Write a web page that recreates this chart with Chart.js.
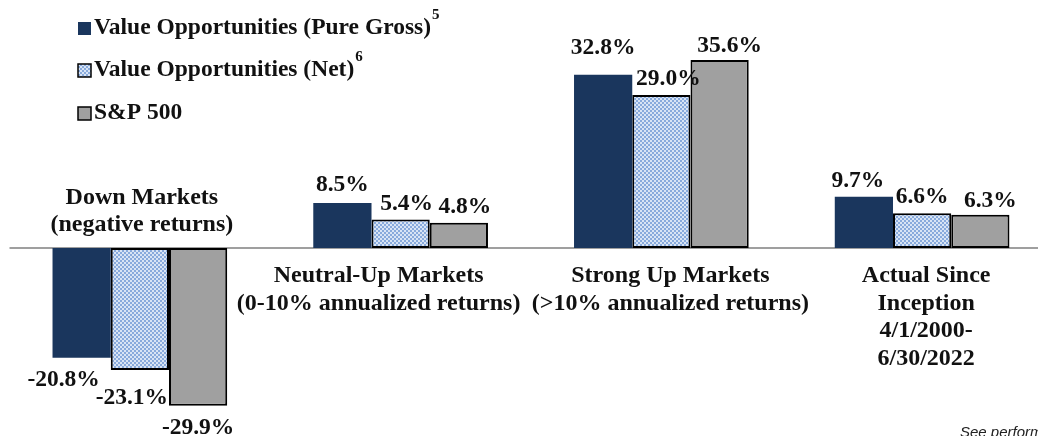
<!DOCTYPE html>
<html>
<head>
<meta charset="utf-8">
<script src="https://cdn.jsdelivr.net/npm/chart.js@4.4.1/dist/chart.umd.min.js"></script>
<style>
  html, body { margin: 0; padding: 0; background: #fff; overflow: hidden; }
  #wrap { width: 1060px; height: 436px; }
</style>
</head>
<body>
<div id="wrap"><canvas id="chart" width="1060" height="436"></canvas></div>
<script>
// categories (multi-line labels)
const categories = [
  ['Down Markets', '(negative returns)'],
  ['Neutral-Up Markets', '(0-10% annualized returns)'],
  ['Strong Up Markets', '(>10% annualized returns)'],
  ['Actual Since', 'Inception', '4/1/2000-', '6/30/2022']
];
const seriesNames = ['Value Opportunities (Pure Gross)', 'Value Opportunities (Net)', 'S&P 500'];
const seriesNotes = ['5', '6', ''];
const pureGross = [-20.8, 8.5, 32.8, 9.7];
const net = [-23.1, 5.4, 29.0, 6.6];
const sp500 = [-29.9, 4.8, 35.6, 6.3];

// checkered fill for the Net series
function makePattern() {
  const c = document.createElement('canvas');
  c.width = 4; c.height = 4;
  const g = c.getContext('2d');
  g.fillStyle = '#d8e4f5';
  g.fillRect(0, 0, 4, 4);
  g.fillStyle = '#88aadc';
  g.fillRect(0, 0, 2, 2);
  g.fillRect(2, 2, 2, 2);
  return g.createPattern(c, 'repeat');
}
const netFill = makePattern();

const serifBold = (size) => 'bold ' + size + 'px "Liberation Serif", "Times New Roman", serif';

// value label nudges [series][category] -> [dx, dy] relative to default spot
const nudges = [
  [[-18, 0], [0, -2], [0, -11], [-6, 0]],
  [[-8, 6], [6, 0], [7, 0], [0, 0]],
  [[0, 0], [6, 0], [10, 2], [10, 2]]
];
// category label horizontal shift
const catShift = [2, -22, 9, 4];

const annotate = {
  id: 'annotate',
  beforeDatasetsDraw(chart) {
    const { ctx, chartArea, scales } = chart;
    const y0 = scales.y.getPixelForValue(0);
    ctx.save();
    ctx.strokeStyle = '#7f7f7f';
    ctx.lineWidth = 1.5;
    ctx.beginPath();
    ctx.moveTo(chartArea.left, y0);
    ctx.lineTo(chartArea.right, y0);
    ctx.stroke();
    ctx.restore();
  },
  afterDatasetsDraw(chart) {
    const { ctx, scales } = chart;
    const y0 = scales.y.getPixelForValue(0);
    ctx.save();
    ctx.fillStyle = '#111';
    ctx.textAlign = 'center';
    ctx.textBaseline = 'middle';

    // value labels
    ctx.font = serifBold(23.5);
    chart.data.datasets.forEach((ds, si) => {
      const meta = chart.getDatasetMeta(si);
      meta.data.forEach((bar, ci) => {
        const v = ds.data[ci];
        const [dx, dy] = nudges[si][ci];
        const y = v >= 0 ? bar.y - 16 : bar.y + 22;
        ctx.fillText(v.toFixed(1) + '%', bar.x + dx, y + dy);
      });
    });

    // category labels
    ctx.font = serifBold(24);
    const lh = 27.5;
    categories.forEach((lines, ci) => {
      const x = scales.x.getPixelForValue(ci) + catShift[ci];
      const neg = pureGross[ci] < 0;
      lines.forEach((t, li) => {
        const y = neg ? y0 - 23 - (lines.length - 1 - li) * lh : y0 + 28 + li * lh;
        ctx.fillText(t, x, y);
      });
    });

    // legend
    const fills = chart.data.datasets.map(d => d.backgroundColor);
    ctx.textAlign = 'left';
    [28, 70, 113].forEach((cy, i) => {
      ctx.fillStyle = fills[i];
      ctx.fillRect(78, cy - 6, 13, 13);
      if (i > 0) {
        ctx.strokeStyle = '#000';
        ctx.lineWidth = 1.5;
        ctx.strokeRect(78, cy - 6, 13, 13);
      }
      ctx.fillStyle = '#111';
      ctx.font = serifBold(23.5);
      ctx.fillText(seriesNames[i], 94, cy);
      if (seriesNotes[i]) {
        const w = ctx.measureText(seriesNames[i]).width;
        ctx.font = serifBold(15);
        ctx.fillText(seriesNotes[i], 94 + w + 1, cy - 13);
      }
    });

    // footnote, cut off at the page edge
    ctx.font = 'italic 15px "Liberation Sans", Arial, sans-serif';
    ctx.fillStyle = '#222';
    ctx.textBaseline = 'top';
    ctx.fillText('See performance disclosures', 960, 425);
    ctx.restore();
  }
};

new Chart(document.getElementById('chart').getContext('2d'), {
  type: 'bar',
  data: {
    labels: categories,
    datasets: [
      { label: seriesNames[0], data: pureGross, backgroundColor: '#1a365d', borderWidth: 0 },
      { label: seriesNames[1], data: net, backgroundColor: netFill, borderColor: '#000', borderWidth: 2, borderSkipped: false },
      { label: seriesNames[2], data: sp500, backgroundColor: '#a0a0a0', borderColor: '#000', borderWidth: 2, borderSkipped: false }
    ]
  },
  options: {
    responsive: false,
    animation: false,
    events: [],
    layout: { padding: { left: 9.5, right: 7.5, top: 36.8, bottom: 29.6 } },
    datasets: { bar: { categoryPercentage: 0.67, barPercentage: 1.0, clip: false } },
    scales: {
      x: { display: false, offset: true },
      y: { display: false, min: -30, max: 40 }
    },
    plugins: {
      legend: { display: false },
      tooltip: { enabled: false }
    }
  },
  plugins: [annotate]
});
</script>
</body>
</html>
